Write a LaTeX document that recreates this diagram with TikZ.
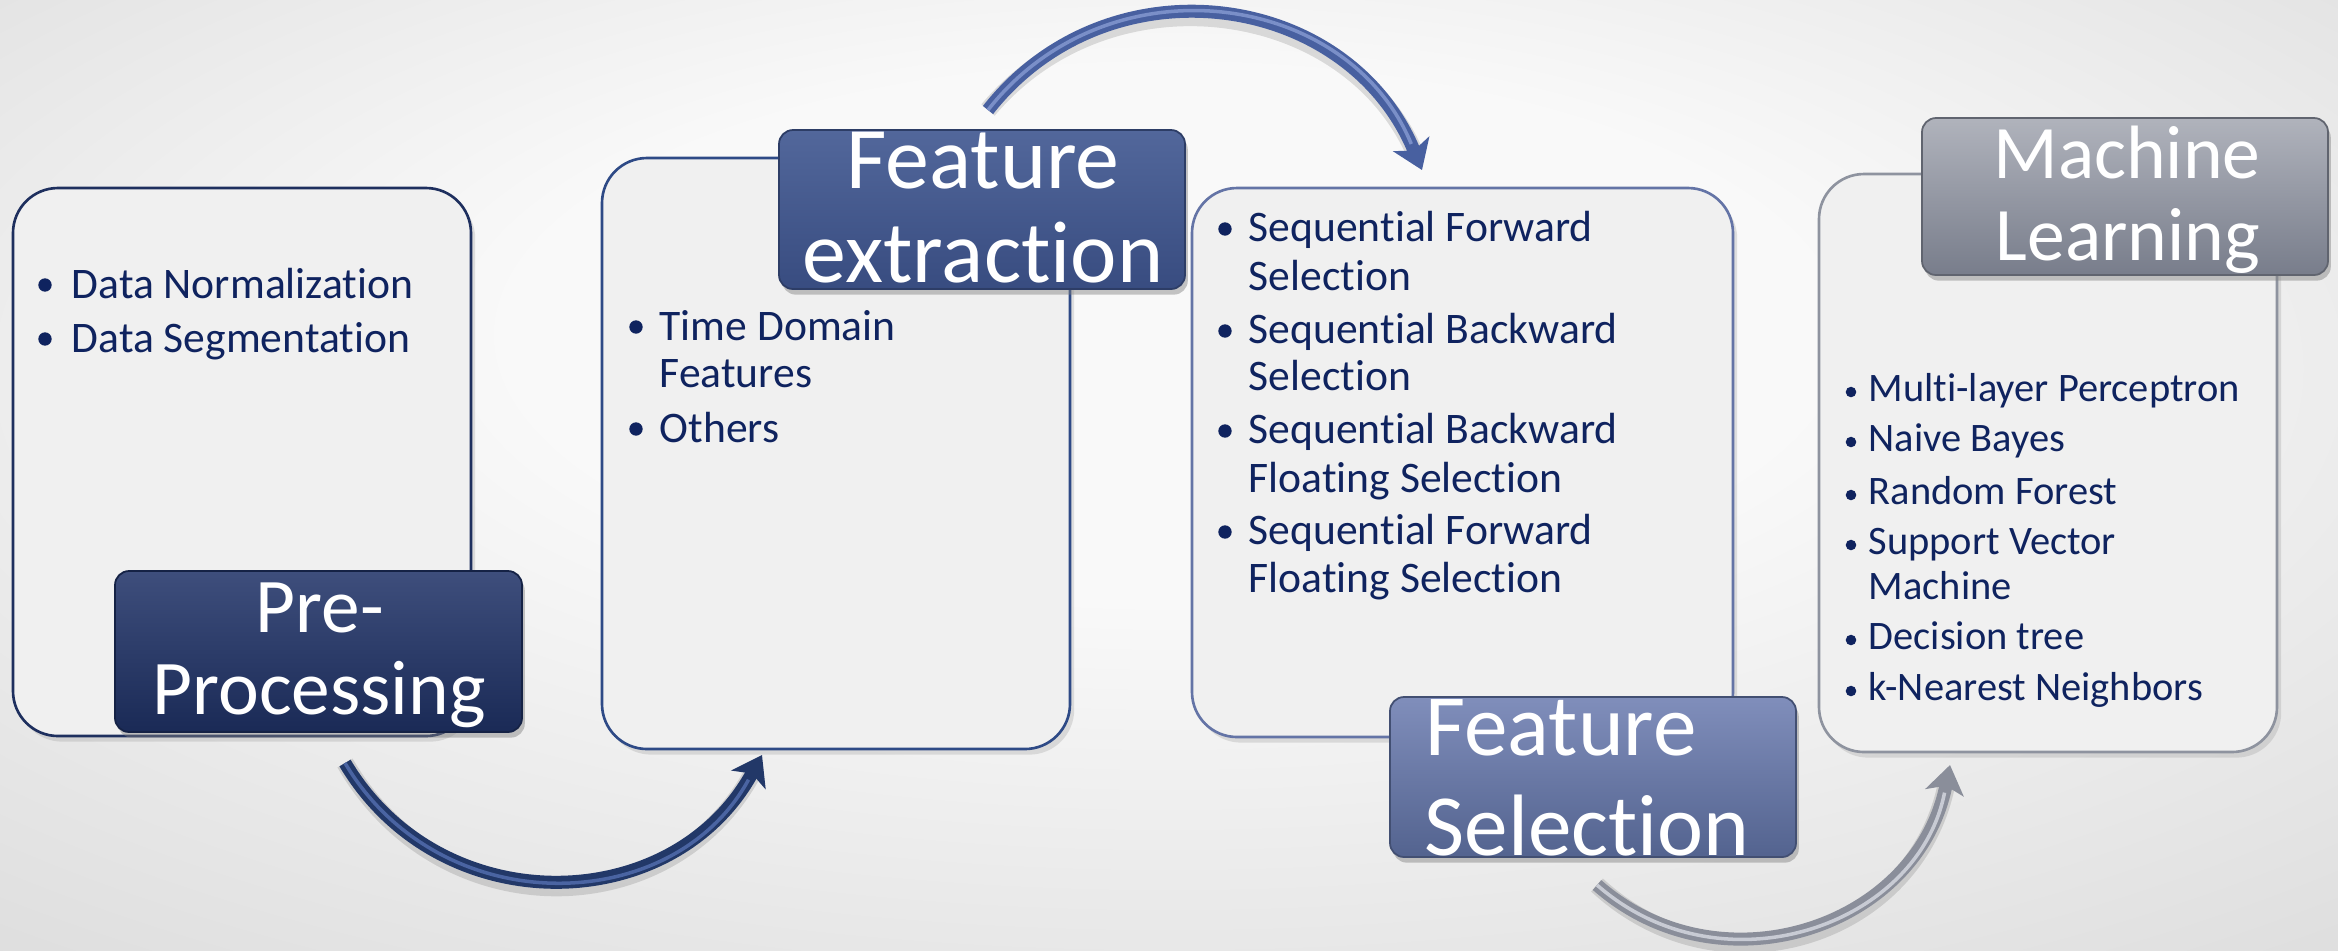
\documentclass[tikz,border=0pt]{standalone}
\usepackage{fontspec}
\setmainfont{Carlito}[Ligatures=NoCommon]
\usetikzlibrary{arrows.meta,shadows,fit}
\definecolor{bgin}{HTML}{F9F9F9}
\definecolor{bgout}{HTML}{CBCBCB}
\definecolor{boxfill}{HTML}{F0F0F0}
\definecolor{txtblue}{HTML}{0F235F}
\definecolor{bordA}{HTML}{1E2F5E}
\definecolor{bordB}{HTML}{2E4A86}
\definecolor{bordC}{HTML}{6474A6}
\definecolor{bordD}{HTML}{8E939F}
\definecolor{laAt}{HTML}{3E4E7C}
\definecolor{laAb}{HTML}{1A2A56}
\definecolor{laBt}{HTML}{52679B}
\definecolor{laBb}{HTML}{384C80}
\definecolor{laCt}{HTML}{808EBB}
\definecolor{laCb}{HTML}{53638F}
\definecolor{laDt}{HTML}{B0B3BC}
\definecolor{laDb}{HTML}{787D8B}
\definecolor{arrA}{HTML}{223868}
\definecolor{arrAh}{HTML}{4A64A2}
\definecolor{arrB}{HTML}{4860A0}
\definecolor{arrBh}{HTML}{7A8FC8}
\definecolor{arrC}{HTML}{8A8E9A}
\definecolor{arrCh}{HTML}{C8CBD4}
\pgfdeclareradialshading{bgshade}{\pgfpoint{0bp}{10bp}}{color(0bp)=(bgin); color(14bp)=(bgin); color(55bp)=(bgout)}
\begin{document}
\begin{tikzpicture}[x=0.01cm,y=-0.01cm,
  panel/.style={rounded corners=12.8pt, fill=boxfill, line width=0.75pt, inner sep=0pt,
    drop shadow={opacity=0.22, shadow xshift=1.2pt, shadow yshift=-1.6pt}},
  lbl/.style={rounded corners=4pt, inner sep=0pt, line width=0.5pt,
    drop shadow={opacity=0.45, shadow xshift=0.8pt, shadow yshift=-1.6pt}},
  bltext/.style={anchor=base west, inner sep=0pt, text=txtblue, font=\fontsize{12.4}{14}\selectfont},
  bltextb/.style={anchor=base west, inner sep=0pt, text=txtblue, font=\fontsize{11.5}{13}\selectfont},
  lbltext/.style={anchor=base, inner sep=0pt, text=white},
  tube/.style={line width=3.7pt, -{Stealth[length=8pt,width=11pt,inset=2pt]}},
  tubehl/.style={line width=1pt, shorten >=8pt},
  tubeshadow/.style={line width=5pt, draw=black, opacity=0.12, shorten >=4pt},
  dot/.style={fill=txtblue}
]
\useasboundingbox (0,0) rectangle (2338,950);
\shade[shading=bgshade] (0,0) rectangle (2338,950);

% content panels
\node (B1) [panel, draw=bordA, fit={(13,188) (471,736)}] {};
\node (B2) [panel, draw=bordB, fit={(602,158) (1070,749)}] {};
\node (B3) [panel, draw=bordC, fit={(1192,188) (1733,737)}] {};
\node (B4) [panel, draw=bordD, fit={(1819,174) (2277,752)}] {};

% panel 1 items
\fill[dot] (45,285) circle[radius=1.9pt];
\fill[dot] (45,339) circle[radius=1.9pt];
\node (p1a) [bltext] at (71,298) {Data Normalization};
\node (p1b) [bltext] at (71,352) {Data Segmentation};

% panel 2 items
\fill[dot] (636,327) circle[radius=1.9pt];
\fill[dot] (636,429) circle[radius=1.9pt];
\node (p2a) [bltext] at (659,340) {Time Domain};
\node (p2b) [bltext] at (659,387) {Features};
\node (p2c) [bltext] at (659,442) {Others};

% panel 3 items
\fill[dot] (1225,229) circle[radius=1.9pt];
\fill[dot] (1225,331) circle[radius=1.9pt];
\fill[dot] (1225,431) circle[radius=1.9pt];
\fill[dot] (1225,532) circle[radius=1.9pt];
\node (p3a) [bltext] at (1248,241) {Sequential Forward};
\node (p3b) [bltext] at (1248,290) {Selection};
\node (p3c) [bltext] at (1248,343) {Sequential Backward};
\node (p3d) [bltext] at (1248,390) {Selection};
\node (p3e) [bltext] at (1248,443) {Sequential Backward};
\node (p3f) [bltext] at (1248,492) {Floating Selection};
\node (p3g) [bltext] at (1248,544) {Sequential Forward};
\node (p3h) [bltext] at (1248,592) {Floating Selection};

% panel 4 items
\fill[dot] (1851,392) circle[radius=1.5pt];
\fill[dot] (1851,442) circle[radius=1.5pt];
\fill[dot] (1851,495) circle[radius=1.5pt];
\fill[dot] (1851,545) circle[radius=1.5pt];
\fill[dot] (1851,640) circle[radius=1.5pt];
\fill[dot] (1851,691) circle[radius=1.5pt];
\node (p4a) [bltextb] at (1868,401) {Multi-layer Perceptron};
\node (p4b) [bltextb] at (1868,451) {Naive Bayes};
\node (p4c) [bltextb] at (1868,504) {Random Forest};
\node (p4d) [bltextb] at (1868,554) {Support Vector};
\node (p4e) [bltextb] at (1868,599) {Machine};
\node (p4f) [bltextb] at (1868,649) {Decision tree};
\node (p4g) [bltextb] at (1868,700) {k-Nearest Neighbors};

% arrows
\coordinate (a1s) at (345,763); \coordinate (a1e) at (762,755);
\coordinate (a2s) at (988,110); \coordinate (a2e) at (1422,170);
\coordinate (a3s) at (1597,885); \coordinate (a3e) at (1950,765);

\draw[tubeshadow, yshift=-2.2pt, xshift=0.6pt] (a1s) .. controls (440,923) and (673,918) .. (a1e);
\draw[tube, draw=arrA] (a1s) .. controls (440,923) and (673,918) .. (a1e);
\draw[tubehl, draw=arrAh] (a1s) .. controls (440,923) and (673,918) .. (a1e);

\draw[tubeshadow, yshift=-2.2pt, xshift=0.6pt] (a2s) .. controls (1108,-43) and (1348,-10) .. (a2e);
\draw[tube, draw=arrB] (a2s) .. controls (1108,-43) and (1348,-10) .. (a2e);
\draw[tubehl, draw=arrBh] (a2s) .. controls (1108,-43) and (1348,-10) .. (a2e);

\draw[tubeshadow, yshift=-2.2pt, xshift=0.6pt] (a3s) .. controls (1721,994) and (1918,927) .. (a3e);
\draw[tube, draw=arrC] (a3s) .. controls (1721,994) and (1918,927) .. (a3e);
\draw[tubehl, draw=arrCh] (a3s) .. controls (1721,994) and (1918,927) .. (a3e);

% title labels
\node (L1) [lbl, top color=laAt, bottom color=laAb, draw=laAb!80!black, fit={(115,571) (522,732)}] {};
\node (L2) [lbl, top color=laBt, bottom color=laBb, draw=laBb!80!black, fit={(779,130) (1185,289)}] {};
\node (L3) [lbl, top color=laCt, bottom color=laCb, draw=laCb!80!black, fit={(1390,697) (1796,857)}] {};
\node (L4) [lbl, top color=laDt, bottom color=laDb, draw=laDb!80!black, fit={(1922,118) (2328,275)}] {};

\node (t1a) [lbltext, font=\fontsize{22}{26}\selectfont] at (320,632) {Pre-};
\node (t1b) [lbltext, font=\fontsize{22}{26}\selectfont] at (319,714) {Processing};
\node (t2a) [lbltext, font=\fontsize{25}{29}\selectfont] at (983,188) {Feature};
\node (t2b) [lbltext, font=\fontsize{25}{29}\selectfont] at (983,282) {extraction};
\node (t3a) [lbltext, font=\fontsize{24.8}{29}\selectfont] at (1561,755) {Feature};
\node (t3b) [lbltext, font=\fontsize{24.8}{29}\selectfont] at (1587,855) {Selection};
\node (t4a) [lbltext, font=\fontsize{21.5}{25}\selectfont] at (2127,178) {Machine};
\node (t4b) [lbltext, font=\fontsize{21.5}{25}\selectfont] at (2128,260) {Learning};
\end{tikzpicture}
\end{document}
